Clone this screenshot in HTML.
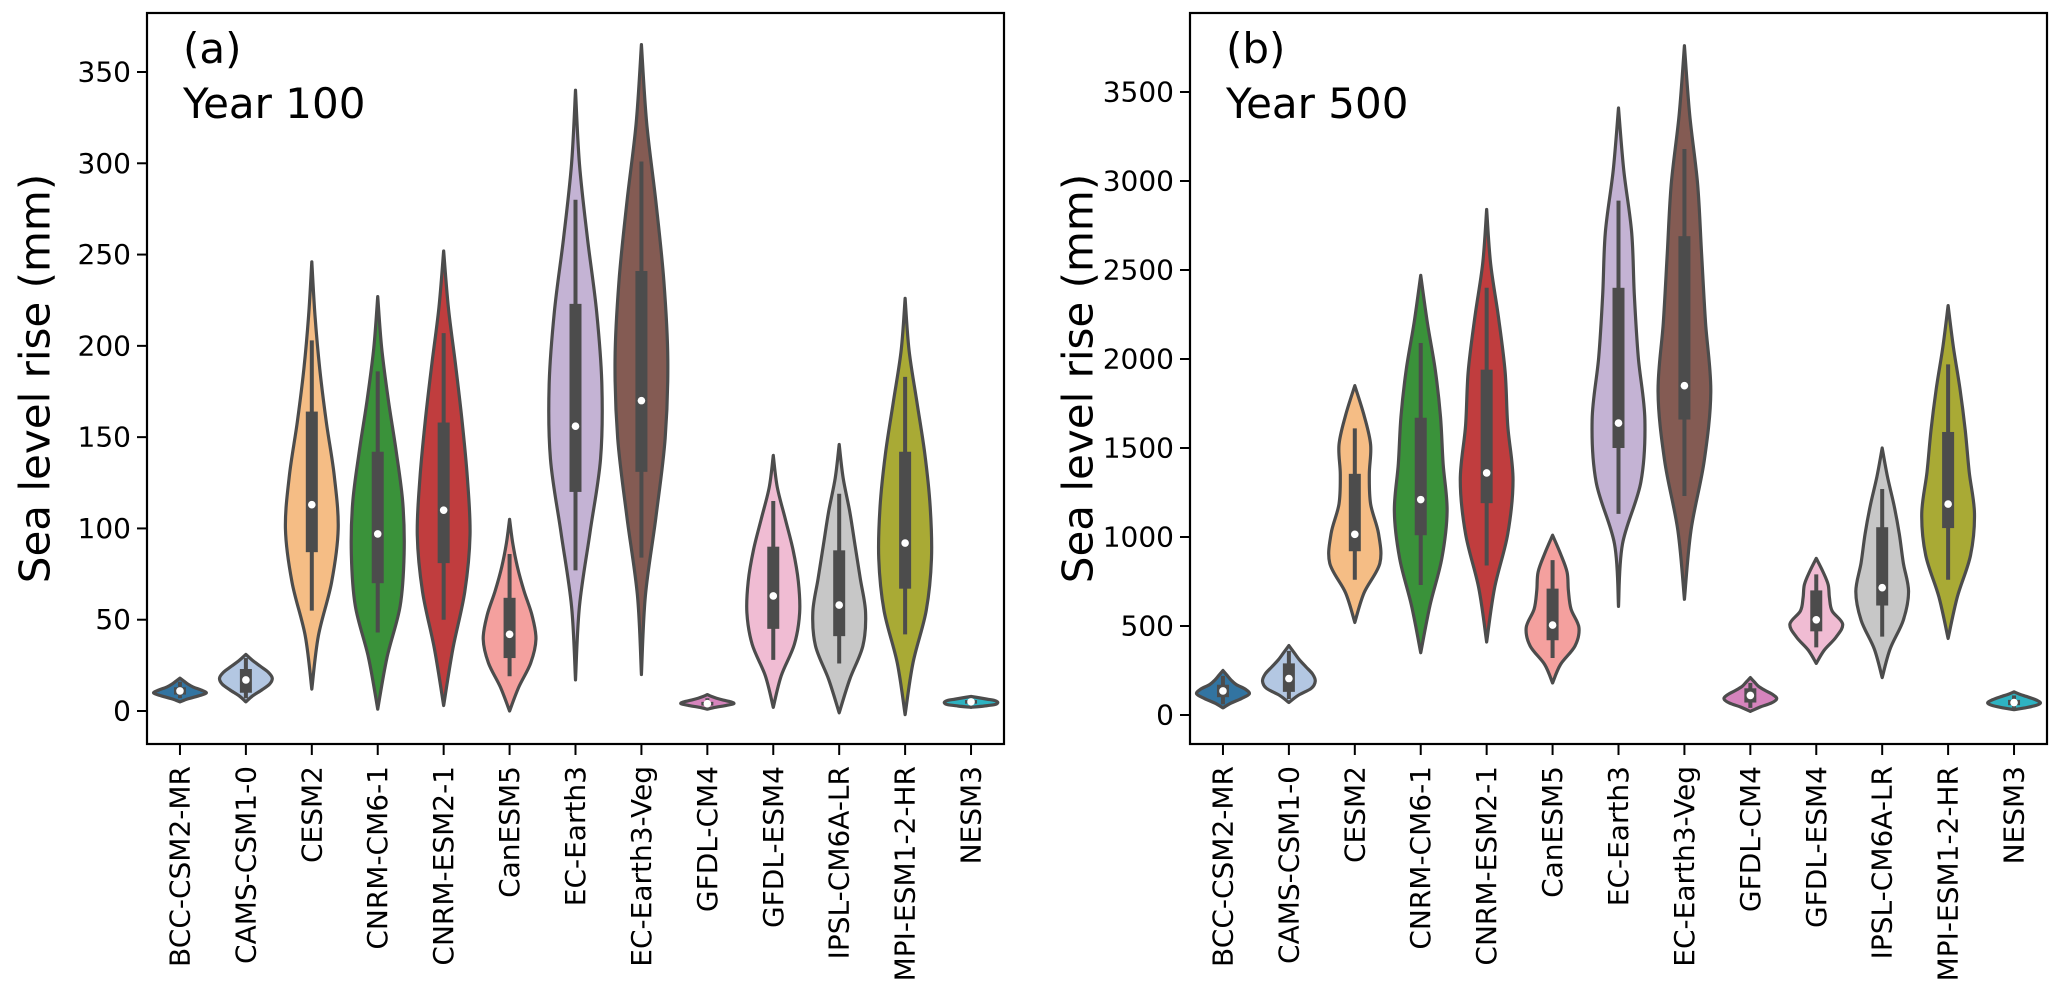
<!DOCTYPE html>
<html><head><meta charset="utf-8"><style>
html,body{margin:0;padding:0;background:#fff;}
svg{display:block;font-family:"DejaVu Sans","Liberation Sans",sans-serif;}
</style></head><body>
<svg id="fig" width="2067" height="999" viewBox="0 0 2067 999" xmlns="http://www.w3.org/2000/svg">
<rect x="0" y="0" width="2067" height="999" fill="#fff"/>
</svg>
<script>
const categories = ["BCC-CSM2-MR","CAMS-CSM1-0","CESM2","CNRM-CM6-1","CNRM-ESM2-1","CanESM5","EC-Earth3","EC-Earth3-Veg","GFDL-CM4","GFDL-ESM4","IPSL-CM6A-LR","MPI-ESM1-2-HR","NESM3"];
const colors = ["#3274a1","#b3c7e2","#f5bd85","#3a923a","#c03d3e","#f4a09e","#c4b3d4","#845b53","#d684bd","#f0bcd3","#c7c7c7","#a9aa35","#2eb3c2"];

// Panel (a) Year 100
const aTicks = [0,50,100,150,200,250,300,350];
const aLo   = [5,5,12,1,3,0,17,20,1,2,-1,-2,2];
const aHi   = [18,31,246,227,252,105,340,365,9,140,146,226,8];
const aWlo  = [7,7,55,43,50,19,77,84,2,28,26,42,3];
const aQ1   = [9,10,87,70,81,29,120,131,3,45,41,67,4];
const aMed  = [11,17,113,97,110,42,156,170,4,63,58,92,5];
const aQ3   = [13,23,164,142,158,62,223,241,5,90,88,142,6];
const aWhi  = [16,29,203,186,207,86,280,301,7,115,119,183,7];
const aShape = [
 [0,0.3,0.7,1.0,0.8,0.5,0.3,0.15,0],
 [0,0.25,0.6,0.9,1.0,0.85,0.55,0.25,0],
 [0,0.25,0.75,1.0,0.85,0.55,0.3,0.12,0],
 [0,0.35,0.85,1.0,0.95,0.7,0.4,0.15,0],
 [0,0.35,0.8,1.0,0.9,0.7,0.45,0.18,0],
 [0,0.35,0.8,1.0,0.85,0.55,0.3,0.12,0],
 [0,0.15,0.55,0.95,1.0,0.8,0.45,0.15,0],
 [0,0.15,0.55,0.9,1.0,0.85,0.55,0.2,0],
 [0,0.3,0.7,1.0,0.9,0.6,0.35,0.15,0],
 [0,0.3,0.8,1.0,0.95,0.75,0.45,0.15,0],
 [0,0.4,0.9,1.0,0.8,0.6,0.4,0.15,0],
 [0,0.3,0.8,1.0,0.95,0.75,0.45,0.15,0],
 [0,0.5,0.9,1.0,1.0,0.9,0.6,0.3,0]
];

// Panel (b) Year 500
const bTicks = [0,500,1000,1500,2000,2500,3000,3500];
const bLo   = [40,70,520,350,410,180,610,650,20,290,210,430,30];
const bHi   = [250,390,1850,2470,2840,1010,3410,3760,210,880,1500,2300,130];
const bWlo  = [60,90,760,730,840,320,1130,1230,40,380,440,760,40];
const bQ1   = [100,130,920,1010,1190,420,1500,1660,70,470,615,1050,55];
const bMed  = [135,205,1015,1210,1360,505,1640,1850,110,535,715,1185,70];
const bQ3   = [170,290,1355,1670,1940,710,2400,2690,150,700,1055,1590,85];
const bWhi  = [220,360,1610,2090,2400,870,2890,3180,180,790,1270,1970,110];
const bShape = [
 [0,0.3,0.7,1.0,0.85,0.5,0.3,0.15,0],
 [0,0.35,0.85,1.0,0.9,0.65,0.4,0.2,0],
 [0,0.35,0.95,0.9,0.6,0.55,0.6,0.35,0],
 [0,0.35,0.8,1.0,0.85,0.75,0.55,0.25,0],
 [0,0.3,0.8,1.0,0.8,0.7,0.45,0.15,0],
 [0,0.3,0.85,1.0,0.7,0.6,0.55,0.3,0],
 [0,0.15,0.85,1.0,0.75,0.6,0.5,0.2,0],
 [0,0.25,0.75,1.0,0.8,0.65,0.5,0.2,0],
 [0,0.35,0.8,1.0,0.85,0.55,0.3,0.15,0],
 [0,0.3,0.75,1.0,0.6,0.5,0.45,0.25,0],
 [0,0.3,0.8,1.0,0.8,0.65,0.45,0.2,0],
 [0,0.35,0.85,1.0,0.8,0.65,0.45,0.2,0],
 [0,0.5,0.85,1.0,0.9,0.7,0.45,0.2,0]
];

const NS = "http://www.w3.org/2000/svg";
const svg = document.getElementById("fig");
function mk(tag, attrs, parent){
  const e = document.createElementNS(NS, tag);
  for (const k in attrs) e.setAttribute(k, attrs[k]);
  (parent||svg).appendChild(e);
  return e;
}
function catmull(pts){
  let d = "";
  for (let i=0;i<pts.length-1;i++){
    const p0 = pts[Math.max(i-1,0)], p1 = pts[i], p2 = pts[i+1], p3 = pts[Math.min(i+2,pts.length-1)];
    const c1x = p1[0]+(p2[0]-p0[0])/6, c1y = p1[1]+(p2[1]-p0[1])/6;
    const c2x = p2[0]-(p3[0]-p1[0])/6, c2y = p2[1]-(p3[1]-p1[1])/6;
    d += " C"+c1x.toFixed(2)+","+c1y.toFixed(2)+" "+c2x.toFixed(2)+","+c2y.toFixed(2)+" "+p2[0].toFixed(2)+","+p2[1].toFixed(2);
  }
  return d;
}

function panel(cfg){
  const {left,right,top,bottom,y0,yMaxTick,ticks,lo,hi,wlo,q1,med,q3,whi,shape,label,year,key} = cfg;
  const ys = v => y0 - (v/ticks[ticks.length-1])*(y0-yMaxTick);
  const step = (right-left)/categories.length;
  const xs = i => left + step*(i+0.5);
  const halfW = step*0.4;
  const g = mk("g",{});
  
  
  categories.forEach((c,i)=>{
    const cx = xs(i);
    const n = shape[i].length;
    const right_ = [], left_ = [];
    for (let k=0;k<n;k++){
      const v = lo[i] + (hi[i]-lo[i])*k/(n-1);
      right_.push([cx + shape[i][k]*halfW, ys(v)]);
    }
    for (let k=n-1;k>=0;k--){
      const v = lo[i] + (hi[i]-lo[i])*k/(n-1);
      left_.push([cx - shape[i][k]*halfW, ys(v)]);
    }
    let d = "M"+right_[0][0].toFixed(2)+","+right_[0][1].toFixed(2)+catmull(right_);
    d += catmull(left_) + " Z";
    const vg = mk("g",{},g);
    
    
    const p = mk("path",{d:d, fill:colors[i], stroke:"#4c4c4c","stroke-width":3.2,"stroke-linejoin":"round"},vg);
    
    
    const wl = mk("line",{x1:cx,x2:cx,y1:ys(wlo[i]),y2:ys(whi[i]),stroke:"#4c4c4c","stroke-width":4},vg);
    
    
    const bx = mk("rect",{x:cx-6,width:12,y:ys(q3[i]),height:Math.max(ys(q1[i])-ys(q3[i]),2),fill:"#4c4c4c"},vg);
    
    
    const md = mk("circle",{cx:cx,cy:ys(med[i]),r:3.8,fill:"#fff"},vg);
    
    
  });
  const fr = mk("rect",{x:left,y:top,width:right-left,height:bottom-top,fill:"none",stroke:"#000","stroke-width":2.2},g);
  
  
  ticks.forEach(t=>{
    const y = ys(t);
    const tl = mk("line",{x1:left-10,x2:left,y1:y,y2:y,stroke:"#000","stroke-width":2},g);
    
    
    const tx = mk("text",{x:left-16,y:y,"font-size":28,"text-anchor":"end","dominant-baseline":"central",fill:"#000"},g);
    tx.textContent = t;
    
    
  });
  categories.forEach((c,i)=>{
    const x = xs(i);
    const tl = mk("line",{x1:x,x2:x,y1:bottom,y2:bottom+11,stroke:"#000","stroke-width":2},g);
    
    
    const tx = mk("text",{x:0,y:0,"font-size":28,"text-anchor":"end","dominant-baseline":"central",fill:"#000",transform:"translate("+x+","+(bottom+22)+") rotate(-90)"},g);
    tx.textContent = c;
    
    
  });
  const yt = mk("text",{x:0,y:0,"font-size":42,"text-anchor":"middle","dominant-baseline":"central",fill:"#000",transform:"translate("+(left-112)+","+((top+bottom)/2)+") rotate(-90)"},g);
  yt.textContent = "Sea level rise (mm)";
  
  
  const pl = mk("text",{x:left+36,y:top+50,"font-size":42,fill:"#000"},g);
  pl.textContent = label;
  
  
  const yr = mk("text",{x:left+36,y:top+105,"font-size":42,fill:"#000"},g);
  yr.textContent = year;
  
  
}

panel({key:"a",left:147,right:1004,top:13,bottom:744,y0:711,yMaxTick:72,ticks:aTicks,lo:aLo,hi:aHi,wlo:aWlo,q1:aQ1,med:aMed,q3:aQ3,whi:aWhi,shape:aShape,label:"(a)",year:"Year 100"});
panel({key:"b",left:1190,right:2047,top:13,bottom:744,y0:715,yMaxTick:92,ticks:bTicks,lo:bLo,hi:bHi,wlo:bWlo,q1:bQ1,med:bMed,q3:bQ3,whi:bWhi,shape:bShape,label:"(b)",year:"Year 500"});
</script>
</body></html>
